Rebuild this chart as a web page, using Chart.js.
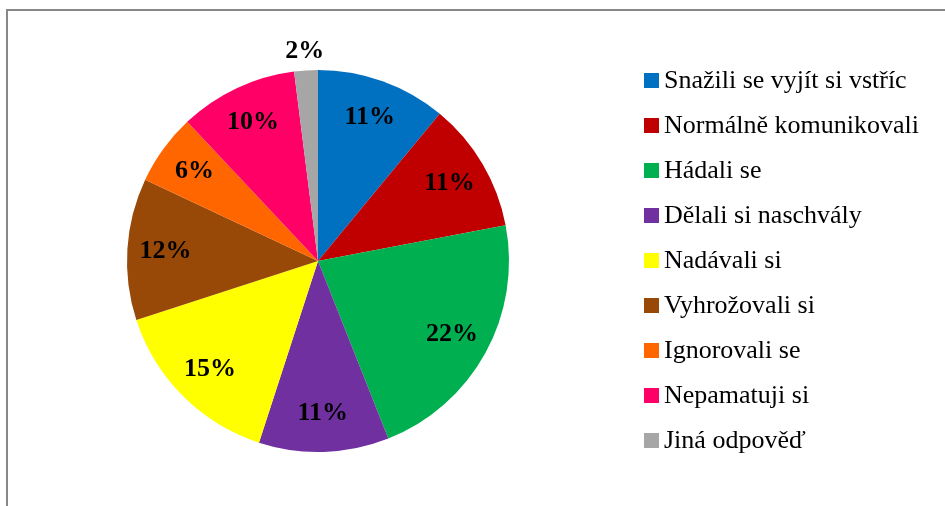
<!DOCTYPE html>
<html>
<head>
<meta charset="utf-8">
<script src="https://cdn.jsdelivr.net/npm/chart.js@4"></script>
<style>
  html, body { margin: 0; padding: 0; background: #fff; }
  #wrap { position: relative; width: 945px; height: 506px; overflow: hidden; }
  #frame { position: absolute; left: 6px; top: 9px; width: 1000px; height: 600px; border: 2px solid #888; box-sizing: border-box; }
  canvas { position: absolute; left: 0; top: 0; }
</style>
</head>
<body>
<div id="wrap">
  <div id="frame"></div>
  <canvas id="pie" width="945" height="506"></canvas>
</div>
<script>
/* ── data ── */
const categories = [
  'Snažili se vyjít si vstříc', 'Normálně komunikovali', 'Hádali se',
  'Dělali si naschvály', 'Nadávali si', 'Vyhrožovali si',
  'Ignorovali se', 'Nepamatuji si', 'Jiná odpověď'
];
const values = [11, 11, 22, 11, 15, 12, 6, 10, 2];
const colors = ['#0070C0', '#C00000', '#00B050', '#7030A0', '#FFFF00', '#984807', '#FF6600', '#FF0066', '#A6A6A6'];

const SERIF = "'Liberation Serif', 'Times New Roman', serif";

/* ── procentní popisky ve výsečích ── */
const sliceLabels = {
  id: 'sliceLabels',
  afterDatasetsDraw(chart) {
    const { ctx } = chart;
    const meta = chart.getDatasetMeta(0);
    ctx.save();
    ctx.font = 'bold 26px ' + SERIF;
    ctx.fillStyle = '#000';
    ctx.textAlign = 'center';
    ctx.textBaseline = 'middle';
    meta.data.forEach((arc, i) => {
      const mid = (arc.startAngle + arc.endAngle) / 2;
      const k = values[i] < 4 ? 1.1 : 0.8;
      const r = arc.outerRadius * k;
      ctx.fillText(values[i] + '%', arc.x + Math.cos(mid) * r, arc.y + Math.sin(mid) * r);
    });
    ctx.restore();
  }
};

/* ── legenda vpravo ── */
const sideLegend = {
  id: 'sideLegend',
  afterDraw(chart) {
    const { ctx } = chart;
    ctx.save();
    ctx.font = '26px ' + SERIF;
    ctx.textBaseline = 'middle';
    categories.forEach((c, i) => {
      const y = 81 + i * 45;
      ctx.fillStyle = colors[i];
      ctx.fillRect(644, y - 8, 15, 15);
      ctx.fillStyle = '#000';
      ctx.fillText(c, 664, y);
    });
    ctx.restore();
  }
};

new Chart(document.getElementById('pie'), {
  type: 'pie',
  data: {
    labels: categories,
    datasets: [{
      data: values,
      backgroundColor: colors,
      borderWidth: 0,
    }]
  },
  options: {
    responsive: false,
    animation: false,
    layout: { padding: { left: 127, right: 436, top: 70, bottom: 54 } },
    plugins: { legend: { display: false }, tooltip: { enabled: false } }
  },
  plugins: [sliceLabels, sideLegend]
});
</script>
</body>
</html>
